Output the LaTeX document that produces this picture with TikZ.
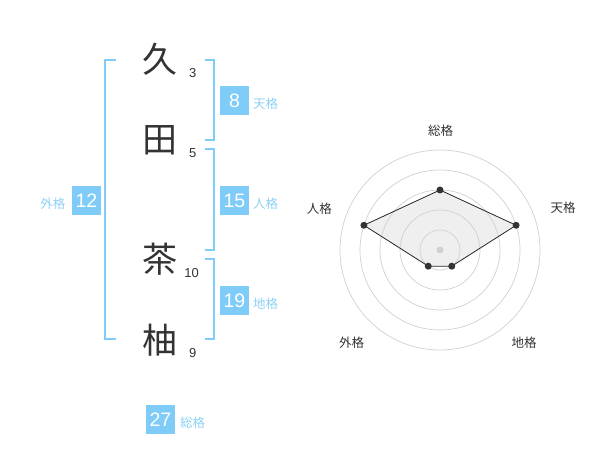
\documentclass[tikz,border=0pt]{standalone}
\usepackage{fontspec}
\setmainfont{Liberation Sans}
\newfontfamily\jpfont{Noto Sans CJK JP}
\usetikzlibrary{positioning}
\definecolor{kakublue}{HTML}{80CCF8}
\definecolor{kakulabel}{HTML}{8DD0F5}
\definecolor{inkgray}{HTML}{333333}
\definecolor{ringgray}{HTML}{D0D0D0}
\definecolor{polyfill}{HTML}{EFEFEF}

\begin{document}
\begin{tikzpicture}[x=1pt,y=-1pt,
    kanji/.style={font=\jpfont\fontsize{35}{35}\selectfont,text=inkgray,inner sep=0pt},
    strokes/.style={font=\fontsize{13}{13}\selectfont,text=inkgray,inner sep=0pt},
    valbox/.style={fill=kakublue,text=white,minimum width=29pt,minimum height=29pt,
        inner sep=0pt,font=\fontsize{19.5}{19.5}\selectfont},
    kaku/.style={font=\jpfont\fontsize{12.5}{12.5}\selectfont,text=kakulabel,inner sep=0pt},
    axis/.style={font=\jpfont\fontsize{12.5}{12.5}\selectfont,text=inkgray,inner sep=0pt},
    bracket/.style={draw=kakublue,line width=2pt},
    ring/.style={draw=ringgray,line width=0.7pt},
    dot/.style={circle,fill=inkgray,inner sep=0pt,minimum size=7pt}]
\useasboundingbox (0,0) rectangle (600,470);

% name characters and stroke counts
\node[kanji] (ku) at (160,59) {久};
\node[kanji] (ta) at (160,140) {田};
\node[kanji] (cha) at (160,259) {茶};
\node[kanji] (yu) at (160,340) {柚};
\node[strokes] (sku) at (192.7,72.7) {3};
\node[strokes] (sta) at (192.7,152.7) {5};
\node[strokes] (scha) at (191.7,272.7) {10};
\node[strokes] (syu) at (192.7,352.7) {9};

% brackets
\draw[bracket] (116,60) -- (105,60) -- (105,339.3) -- (116,339.3);
\draw[bracket] (205,60) -- (214,60) -- (214,140) -- (205,140);
\draw[bracket] (205,149.3) -- (214,149.3) -- (214,250) -- (205,250);
\draw[bracket] (205,259.3) -- (214,259.3) -- (214,339.3) -- (205,339.3);

% values
\node[valbox] (ten) at (234.5,100.5) {8};
\node[kaku,anchor=west] (tenl) at (253,103.3) {天格};
\node[valbox] (jin) at (234.5,200.5) {15};
\node[kaku,anchor=west] (jinl) at (253,203.3) {人格};
\node[valbox] (chi) at (234.5,300.5) {19};
\node[kaku,anchor=west] (chil) at (253,303.3) {地格};
\node[valbox] (gai) at (86.5,200.5) {12};
\node[kaku,anchor=east] (gail) at (65.5,203.3) {外格};
\node[valbox] (sou) at (160.5,419.5) {27};
\node[kaku,anchor=west] (soul) at (180,422.3) {総格};

% radar chart
\coordinate (c) at (440,250);
\path (c) ++(-90:60) coordinate (psou)
      (c) ++(-18:80) coordinate (pten)
      (c) ++(54:20) coordinate (pchi)
      (c) ++(126:20) coordinate (pgai)
      (c) ++(-162:80) coordinate (pjin);
\fill[polyfill] (psou) -- (pten) -- (pchi) -- (pgai) -- (pjin) -- cycle;
\foreach \r in {20,40,...,100}
    \draw[ring] (c) circle[radius=\r pt];
\draw[draw=black!85,line width=0.8pt]
    (psou) -- (pten) -- (pchi) -- (pgai) -- (pjin) -- cycle;
\node[dot,fill=ringgray] (mid) at (c) {};
\foreach \p in {psou,pten,pchi,pgai,pjin}
    \node[dot] (d\p) at (\p) {};
\node[axis] (asou) at (440.7,130.7) {総格};
\node[axis] (aten) at (563,208) {天格};
\node[axis] (ajin) at (319.3,209) {人格};
\node[axis] (agai) at (351.7,342.3) {外格};
\node[axis] (achi) at (524,342.3) {地格};
\end{tikzpicture}
\end{document}
